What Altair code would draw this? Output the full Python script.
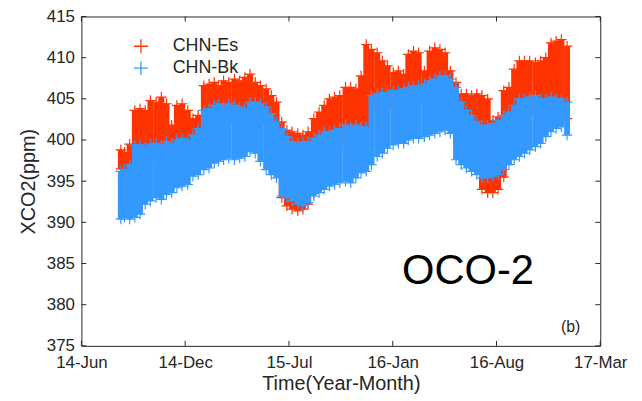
import altair as alt
import pandas as pd

# ---- data ----
dates = [
    "2014-08-25", "2014-09-01", "2014-09-11", "2014-09-21", "2014-10-01", "2014-10-11", "2014-10-21",
    "2014-11-01", "2014-11-11", "2014-11-21", "2014-12-01", "2014-12-11", "2014-12-21",
    "2015-01-01", "2015-01-11", "2015-01-21", "2015-02-01", "2015-02-11", "2015-02-21",
    "2015-03-01", "2015-03-11", "2015-03-21", "2015-04-01", "2015-04-11", "2015-04-21",
    "2015-05-01", "2015-05-11", "2015-05-21", "2015-06-01", "2015-06-11", "2015-06-21",
    "2015-07-01", "2015-07-11", "2015-07-21", "2015-08-01", "2015-08-11", "2015-08-21",
    "2015-09-01", "2015-09-11", "2015-09-21", "2015-10-01", "2015-10-11", "2015-10-21",
    "2015-11-01", "2015-11-11", "2015-11-21", "2015-12-01", "2015-12-11", "2015-12-21",
    "2016-01-01", "2016-01-11", "2016-01-21", "2016-02-01", "2016-02-11", "2016-02-21",
    "2016-03-01", "2016-03-11", "2016-03-21", "2016-04-01", "2016-04-11", "2016-04-21",
    "2016-05-01", "2016-05-11", "2016-05-21", "2016-06-01", "2016-06-11", "2016-06-21",
    "2016-07-01", "2016-07-11", "2016-07-21", "2016-08-01", "2016-08-11", "2016-08-21",
    "2016-09-01", "2016-09-11", "2016-09-21", "2016-10-01", "2016-10-11", "2016-10-21",
    "2016-11-01", "2016-11-11", "2016-11-21", "2016-12-01", "2016-12-11", "2016-12-21",
    "2017-01-01",
]

es_hi = [
    398.8, 398.5, 399.5, 403.6, 403.8, 403.6, 404.8, 404.6, 405.2, 404.4, 401.8, 404.2, 404.4,
    403.6, 402.6, 403.0, 406.6, 406.8, 407.0, 406.6, 407.2, 407.0, 407.4, 407.2, 407.6,
    408.0, 407.0, 406.6, 406.2, 405.4, 404.6, 402.2, 401.2, 401.0, 400.8, 400.6, 401.0,
    402.6, 403.4, 404.2, 405.0, 405.2, 405.4, 406.4, 406.4, 406.2, 407.8, 411.6, 411.0,
    410.6, 409.6, 409.0, 408.2, 408.4, 408.0, 410.4, 410.8, 410.6, 408.4, 410.8, 411.2,
    411.0, 410.6, 408.4, 407.0, 405.6, 405.6, 405.4, 405.6, 405.4, 405.0, 402.4, 402.8,
    406.0, 406.4, 408.6, 409.6, 409.6, 409.6, 409.4, 409.6, 410.0, 411.8, 412.0, 412.2,
    411.4,
]
es_lo = [
    396.5, 396.0, 396.4, 397.4, 397.4, 397.2, 397.5, 397.6, 397.4, 397.8, 397.6, 398.0, 398.2,
    398.0, 398.6, 399.4, 401.6, 401.8, 402.2, 402.4, 402.2, 402.4, 402.2, 402.0, 401.8,
    402.6, 402.6, 402.4, 402.0, 401.2, 400.2, 393.0, 392.0, 391.6, 391.4, 391.6, 392.2,
    393.5, 398.6, 399.0, 399.0, 399.2, 399.4, 399.8, 399.6, 399.8, 399.6, 399.6, 403.4,
    403.6, 403.8, 403.8, 404.0, 404.0, 404.2, 404.4, 404.6, 404.6, 404.8, 405.2, 405.4,
    405.8, 405.8, 405.4, 404.4, 402.6, 401.6, 401.0, 400.2, 394.0, 393.6, 393.6, 394.0,
    395.5, 401.4, 402.2, 403.0, 403.0, 403.2, 403.4, 403.0, 403.0, 403.2, 403.0, 403.0,
    402.6,
]
bk_hi = [
    396.2, 396.4, 397.0, 399.4, 399.4, 399.2, 399.5, 399.6, 399.4, 399.8, 399.6, 400.0, 400.2,
    400.0, 400.6, 401.4, 403.6, 403.8, 404.2, 404.4, 404.2, 404.4, 404.2, 404.0, 403.8,
    404.6, 404.6, 404.4, 404.0, 403.2, 402.2, 401.4, 400.4, 399.8, 399.6, 399.8, 399.8,
    400.2, 400.6, 401.0, 401.0, 401.2, 401.4, 401.8, 401.6, 401.8, 401.6, 401.6, 405.4,
    405.6, 405.8, 405.8, 406.0, 406.0, 406.2, 406.4, 406.6, 406.6, 406.8, 407.2, 407.4,
    407.8, 407.8, 407.4, 406.4, 404.6, 403.6, 403.0, 402.2, 401.8, 401.8, 402.0, 402.4,
    403.0, 403.4, 404.2, 405.0, 405.0, 405.2, 405.4, 405.0, 405.0, 405.2, 405.0, 405.0,
    404.6,
]
bk_lo = [
    390.4, 390.6, 390.4, 390.6, 391.0, 392.2, 392.6, 393.0, 392.8, 393.4, 393.6, 394.2, 394.4,
    394.6, 395.6, 395.8, 396.4, 396.6, 397.2, 397.4, 397.6, 397.8, 397.6, 397.8, 398.0,
    398.6, 398.4, 397.4, 396.4, 395.8, 395.4, 393.2, 393.0, 392.6, 392.2, 392.0, 392.4,
    393.2, 393.6, 394.0, 394.4, 394.6, 394.8, 395.0, 394.8, 395.4, 396.0, 396.2, 397.0,
    398.0, 398.4, 399.0, 399.4, 399.6, 399.6, 400.0, 400.2, 400.2, 400.4, 400.6, 400.8,
    401.0, 401.2, 400.8, 397.6, 397.0, 396.6, 396.2, 395.8, 395.4, 395.4, 395.6, 395.8,
    396.4, 397.0, 397.6, 398.0, 398.4, 398.8, 399.2, 399.6, 400.4, 401.0, 401.4, 401.6,
    400.6,
]

series_names = ["CHN-Es", "CHN-Bk"]
series_colors = ["#FF3300", "#3399FF"]

y_ticks = [375, 380, 385, 390, 395, 400, 405, 410, 415]
x_tick_dates = ["2014-06-10", "2014-12-27", "2015-07-15", "2016-01-31", "2016-08-18", "2017-03-06"]

notes = ["OCO-2", "(b)"]
note_dates = ["2016-06-24", "2017-01-08"]
note_values = [384.1, 377.3]

# ---- layout / style ----
W, H = 523, 332
FONT = "Liberation Sans"
INK = "#262626"
PLUS = "M-1,0L1,0M0,-1L0,1"
TICK = 5


def dt(s):
    y, m, d = (int(p) for p in s.split("-"))
    return alt.DateTime(year=y, month=m, date=d, utc=True)


n = len(dates)
df = pd.DataFrame({
    "date": dates * 2,
    "series": [series_names[0]] * n + [series_names[1]] * n,
    "hi": es_hi + bk_hi,
    "lo": es_lo + bk_lo,
})

xscale = alt.Scale(type="utc", domain=[dt(x_tick_dates[0]), dt(x_tick_dates[-1])])
yscale = alt.Scale(domain=[y_ticks[0], y_ticks[-1]], nice=False, zero=False)

common_axis = dict(grid=False, domain=False, ticks=False, labelFontSize=17, titleFontSize=20,
                   labelFont=FONT, titleFont=FONT, labelColor=INK, titleColor=INK,
                   titleFontWeight="normal", labelFlush=False, labelOverlap=False)
xaxis = alt.Axis(values=[dt(s) for s in x_tick_dates],
                 labelExpr="utcFormat(datum.value, '%y-%b')",
                 title="Time(Year-Month)", labelPadding=9, titlePadding=3, **common_axis)
yaxis = alt.Axis(values=y_ticks, title="XCO2(ppm)", labelPadding=7, titlePadding=8,
                 **common_axis)

X = alt.X("date:T", scale=xscale, axis=xaxis)
color_scale = alt.Scale(domain=series_names, range=series_colors)
legend = alt.Legend(title=None, orient="none", legendX=51, legendY=21, padding=0,
                    symbolType=PLUS, symbolSize=196, symbolStrokeWidth=1.3,
                    labelFontSize=18, labelFont=FONT, labelColor=INK, labelOffset=23,
                    rowPadding=2)

base = alt.Chart(df)


def series_layers(i):
    name = series_names[i]
    band = base.transform_filter(alt.datum.series == name).mark_rule(
        strokeWidth=6, color=series_colors[i]
    ).encode(x=X, y=alt.Y("lo:Q", scale=yscale, axis=yaxis), y2="hi:Q")
    pts = base.transform_filter(alt.datum.series == name).transform_fold(
        ["hi", "lo"], as_=["kind", "value"]
    ).mark_point(shape=PLUS, size=110, strokeWidth=1.2, filled=False, opacity=1).encode(
        x=X,
        y=alt.Y("value:Q", scale=yscale, axis=yaxis),
        color=alt.Color("series:N", scale=color_scale, legend=legend),
    )
    return [band, pts]


xt = alt.Chart(pd.DataFrame({"date": x_tick_dates}))
yt = alt.Chart(pd.DataFrame({"value": y_ticks}))
Yv = alt.Y("value:Q", scale=yscale, axis=yaxis)

ticks = [
    xt.mark_rule(color=INK, strokeWidth=1).encode(x=X, y=alt.value(0), y2=alt.value(TICK)),
    xt.mark_rule(color=INK, strokeWidth=1).encode(x=X, y=alt.value(H - TICK), y2=alt.value(H)),
    yt.mark_rule(color=INK, strokeWidth=1).encode(y=Yv, x=alt.value(0), x2=alt.value(TICK)),
    yt.mark_rule(color=INK, strokeWidth=1).encode(y=Yv, x=alt.value(W - TICK), x2=alt.value(W)),
]

nd = pd.DataFrame({"date": note_dates, "value": note_values, "label": notes})
note_big = alt.Chart(nd.iloc[[0]]).mark_text(
    font=FONT, fontSize=42, color="black", align="center", baseline="middle"
).encode(x=X, y=Yv, text="label:N")
note_small = alt.Chart(nd.iloc[[1]]).mark_text(
    font=FONT, fontSize=16, color=INK, align="center", baseline="middle"
).encode(x=X, y=Yv, text="label:N")

chart = alt.layer(
    *series_layers(0), *series_layers(1), *ticks, note_big, note_small
).properties(
    width=W, height=H,
    background="white",
    autosize=alt.AutoSizeParams(type="none"),
    padding={"left": 74, "top": 7, "right": 34, "bottom": 52},
).configure_view(
    stroke=INK, strokeWidth=1
).configure_axis(
    labelFont=FONT, titleFont=FONT, labelColor=INK, titleColor=INK, titleFontWeight="normal"
)

chart.save("out.html", embed_options={"renderer": "svg", "actions": False})
